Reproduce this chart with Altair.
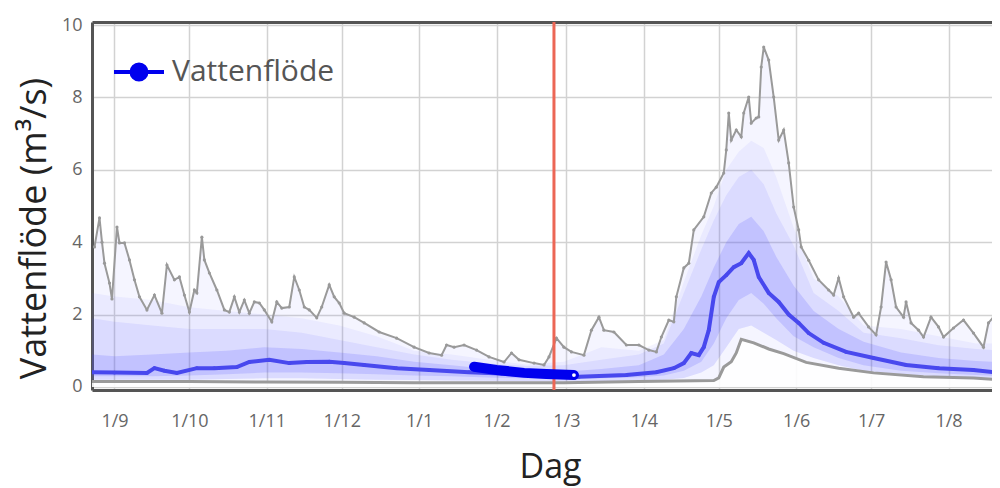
import pandas as pd
import altair as alt

BASE = pd.Timestamp("2022-09-01")

# ---- data (day offsets from 1 Sep) ----
max_days = [-8, -6, -5, -4, -2, -1, 1, 2, 4, 6, 8, 10, 13, 16, 19, 21, 24, 26, 28, 30,
            32, 33, 35, 36, 38, 41, 44, 46, 48, 50, 52, 54, 56, 58, 60, 63, 65, 67, 70, 72,
            74, 76, 78, 81, 83, 86, 88, 90, 92, 96, 100, 106, 113, 120, 126, 131, 133, 136, 140, 145,
            150, 156, 159, 162, 168, 172, 174, 177, 180, 183, 188, 191, 194, 196, 200, 205, 210, 214, 217, 219,
            222, 224, 225, 228, 230, 232, 236, 239, 241, 244, 245, 246, 247, 249, 251, 252, 254, 255, 257, 258,
            259, 260, 262, 264, 266, 268, 270, 272, 274, 275, 278, 282, 286, 288, 290, 292, 296, 298, 302, 305,
            307, 309, 311, 313, 316, 317, 319, 322, 324, 327, 330, 332, 336, 340, 344, 348, 350, 352, 354]
max_vals = [3.87, 4.67, 4.00, 3.42, 2.87, 2.43, 4.42, 3.98, 3.98, 3.51, 2.96, 2.49, 2.13, 2.54, 2.04, 3.37, 2.96, 3.04, 2.54, 2.07,
            2.68, 2.60, 4.14, 3.51, 3.15, 2.68, 2.13, 2.07, 2.49, 2.07, 2.40, 2.04, 2.35, 2.32, 2.13, 1.80, 2.35, 2.18, 2.21, 3.04,
            2.68, 2.21, 2.13, 1.91, 2.21, 2.82, 2.49, 2.32, 2.04, 1.93, 1.77, 1.52, 1.35, 1.10, 0.94, 0.88, 1.16, 1.10, 1.16, 1.02,
            0.83, 0.69, 0.94, 0.75, 0.66, 0.61, 0.83, 1.35, 1.10, 0.97, 0.88, 1.57, 1.93, 1.57, 1.52, 1.16, 1.16, 1.02, 0.97, 1.38,
            1.85, 1.80, 2.49, 3.29, 3.42, 4.34, 4.70, 5.36, 5.52, 5.91, 6.55, 7.57, 6.82, 7.10, 6.91, 7.57, 8.01, 7.29, 7.43, 7.46,
            8.84, 9.39, 9.03, 8.01, 6.82, 7.10, 6.19, 4.97, 4.34, 3.87, 3.50, 2.96, 2.68, 2.54, 3.01, 2.49, 1.93, 2.04, 1.66, 1.44,
            2.21, 3.45, 2.96, 2.21, 1.93, 2.35, 1.77, 1.57, 1.38, 1.93, 1.66, 1.38, 1.63, 1.85, 1.49, 1.10, 1.77, 1.93, 1.57]

med_days = [-9, 0, 13, 16, 20, 25, 33, 40, 49, 54, 62, 70, 77, 86, 92, 100, 113, 126, 142, 155,
            170, 186, 205, 217, 224, 228, 231, 234, 236, 238, 240, 242, 245, 248, 251, 254, 256, 258, 262, 266,
            270, 274, 278, 284, 293, 304, 317, 330, 344, 355]
med_vals = [0.41, 0.40, 0.39, 0.52, 0.45, 0.39, 0.52, 0.52, 0.55, 0.69, 0.75, 0.66, 0.69, 0.70, 0.66, 0.61, 0.52, 0.47, 0.41, 0.37,
            0.32, 0.28, 0.33, 0.41, 0.52, 0.66, 0.94, 0.88, 1.10, 1.57, 2.49, 2.90, 3.09, 3.31, 3.42, 3.70, 3.51, 3.04, 2.60, 2.35,
            2.00, 1.77, 1.49, 1.22, 0.97, 0.80, 0.61, 0.52, 0.47, 0.39]

min_days = [-9, 30, 60, 90, 120, 150, 180, 210, 240, 242, 244, 247, 249, 251, 256, 262, 268, 277, 290, 304, 324, 344, 356]
min_vals = [0.15, 0.15, 0.14, 0.13, 0.12, 0.12, 0.12, 0.15, 0.18, 0.25, 0.55, 0.70, 0.94, 1.32, 1.22, 1.05, 0.92, 0.68, 0.52, 0.39, 0.28, 0.25, 0.19]

band_days = [-9, 0, 15, 30, 45, 60, 75, 90, 105, 120, 135, 150, 165, 180, 195, 210, 220, 228, 235, 240,
             245, 250, 255, 260, 265, 272, 280, 290, 300, 315, 330, 345, 356]
p95 = [2.6, 2.5, 2.4, 2.2, 2.1, 2.0, 1.9, 1.7, 1.4, 1.0, 0.9, 0.75, 0.62, 0.7, 1.1, 1.0, 1.3, 2.9, 4.2, 5.0,
       6.0, 6.5, 6.8, 6.6, 5.8, 4.4, 3.0, 2.5, 1.7, 1.6, 1.4, 1.2, 1.2]
p90 = [1.9, 1.8, 1.7, 1.6, 1.6, 1.6, 1.5, 1.3, 1.1, 0.9, 0.75, 0.65, 0.58, 0.6, 0.75, 0.9, 1.2, 2.6, 3.8, 4.6,
       5.3, 5.8, 6.0, 5.6, 4.8, 3.9, 2.6, 2.1, 1.5, 1.35, 1.15, 1.05, 1.0]
p75 = [0.9, 0.85, 0.9, 0.95, 1.0, 1.1, 1.05, 0.95, 0.85, 0.7, 0.6, 0.5, 0.45, 0.42, 0.5, 0.6, 0.9, 1.6, 2.5, 3.3,
       4.0, 4.5, 4.7, 4.3, 3.6, 2.8, 2.1, 1.6, 1.25, 0.95, 0.8, 0.72, 0.68]
p25 = [0.3, 0.3, 0.3, 0.32, 0.35, 0.4, 0.4, 0.38, 0.35, 0.32, 0.3, 0.26, 0.24, 0.22, 0.24, 0.27, 0.32, 0.45, 0.7, 1.2,
       1.9, 2.4, 2.6, 2.3, 1.9, 1.4, 1.1, 0.8, 0.6, 0.45, 0.38, 0.33, 0.3]
p10 = [0.2, 0.2, 0.2, 0.2, 0.22, 0.24, 0.24, 0.22, 0.2, 0.19, 0.18, 0.17, 0.16, 0.15, 0.16, 0.18, 0.2, 0.25, 0.4, 0.6,
       1.1, 1.6, 1.7, 1.5, 1.3, 1.0, 0.8, 0.6, 0.45, 0.35, 0.3, 0.27, 0.25]

obs_days = [144, 153, 164, 173, 184]
obs_vals = [0.56, 0.47, 0.39, 0.36, 0.33]

forecast_day = [176]
series_name = "Vattenflöde"
month_ticks = [(2022, 9), (2022, 10), (2022, 11), (2022, 12), (2023, 1), (2023, 2),
               (2023, 3), (2023, 4), (2023, 5), (2023, 6), (2023, 7), (2023, 8)]
y_ticks = [0, 2, 4, 6, 8, 10]


def dates(days):
    return [BASE + pd.Timedelta(days=d) for d in days]


df_max = pd.DataFrame({"date": dates(max_days), "v": max_vals})
df_med = pd.DataFrame({"date": dates(med_days), "v": med_vals})
df_min = pd.DataFrame({"date": dates(min_days), "v": min_vals})
df_band = pd.DataFrame({"date": dates(band_days), "p10": p10, "p25": p25,
                        "p75": p75, "p90": p90, "p95": p95})
df_obs = pd.DataFrame({"date": dates(obs_days), "v": obs_vals, "serie": series_name})
df_end = df_obs.tail(1)
df_rule = pd.DataFrame({"date": dates(forecast_day)})

xs = alt.Scale(domain=[alt.DateTime(year=2022, month=8, date=23),
                       alt.DateTime(year=2023, month=8, date=18, hours=10)])
ys = alt.Scale(domain=[-0.083, 10.083], nice=False, zero=False)

FONT = "Open Sans"

x_axis = alt.Axis(
    format="%-d/%-m",
    values=[alt.DateTime(year=y, month=m, date=1) for y, m in month_ticks],
    labelFontSize=18, labelColor="#666", labelPadding=22, labelFont=FONT,
    ticks=False, grid=True, gridColor="#d2d2d2", gridWidth=1.5,
    domain=True, domainColor="#555", domainWidth=3,
    title="Dag", titleFontSize=34, titleColor="#222", titleFont=FONT, titleFontWeight="normal",
    titleX=458, titleY=87, titleAlign="center", titleBaseline="alphabetic",
)
x_top = alt.Axis(orient="top", labels=False, ticks=False, grid=False, domain=True,
                 domainColor="#555", domainWidth=3, title=None)
y_axis = alt.Axis(
    values=y_ticks,
    labelFontSize=18, labelColor="#666", labelPadding=10, labelFont=FONT,
    ticks=False, grid=True, gridColor="#d2d2d2", gridWidth=1.5,
    domain=True, domainColor="#555", domainWidth=3,
    title="Vattenflöde (m³/s)", titleFontSize=36, titleColor="#222", titleFont=FONT,
    titleFontWeight="normal", titleX=-58, titleY=206, titleAlign="center", titleBaseline="middle",
)


def X(axis=None):
    return alt.X("date:T", scale=xs, axis=axis)


def Y(field):
    return alt.Y(field, scale=ys, axis=y_axis)


envelope = alt.Chart(df_max).mark_area(color="#6b6bff", opacity=0.07, clip=True).encode(
    x=X(x_axis), y=Y("v:Q"), y2=alt.datum(0)
)
band95 = alt.Chart(df_band).mark_area(color="#6060ff", opacity=0.07, clip=True).encode(
    x=X(), y=Y("p95:Q"), y2="p10:Q"
)
band90 = alt.Chart(df_band).mark_area(color="#5a5aff", opacity=0.10, clip=True).encode(
    x=X(), y=Y("p90:Q"), y2="p10:Q"
)
band75 = alt.Chart(df_band).mark_area(color="#4a4aff", opacity=0.17, clip=True).encode(
    x=X(), y=Y("p75:Q"), y2="p25:Q"
)
under_min = alt.Chart(df_min).mark_area(color="white", opacity=0.9, clip=True).encode(
    x=X(), y=Y("v:Q"), y2=alt.datum(0)
)
min_line = alt.Chart(df_min).mark_line(color="#9a9a9a", strokeWidth=3, clip=True).encode(
    x=X(), y=Y("v:Q")
)
max_line = alt.Chart(df_max).mark_line(
    color="#9a9a9a", strokeWidth=2, clip=True,
    point=alt.OverlayMarkDef(color="#999", size=10, filled=True),
).encode(x=X(), y=Y("v:Q"))
med_line = alt.Chart(df_med).mark_line(
    color="#4848ee", strokeWidth=4, clip=True,
    point=alt.OverlayMarkDef(color="#4848ee", size=14, filled=True),
).encode(x=X(), y=Y("v:Q"))
rule = alt.Chart(df_rule).mark_rule(color="#ec6655", strokeWidth=3).encode(x=X(x_top))
obs_line = alt.Chart(df_obs).mark_line(strokeWidth=10, strokeCap="round", clip=True).encode(
    x=X(), y=Y("v:Q"),
    color=alt.Color(
        "serie:N", scale=alt.Scale(range=["#0000ee"]),
        legend=alt.Legend(
            orient="none", legendX=20, legendY=23, title=None, padding=0,
            symbolType="M-1,0L1,0M0.3,0A0.3,0.3,0,1,1,-0.3,0A0.3,0.3,0,1,1,0.3,0Z",
            symbolSize=2500, symbolStrokeWidth=4, symbolFillColor="#0000ee",
            symbolStrokeColor="#0000ee", symbolOpacity=1,
            labelFontSize=30, labelColor="#555", labelFont=FONT, labelOffset=6,
            labelLimit=400,
        ),
    ),
)
obs_end = alt.Chart(df_end).mark_point(
    filled=True, fill="white", stroke="#0000ee", strokeWidth=2.5, size=40, opacity=1, clip=True
).encode(x=X(), y=Y("v:Q"))

chart = (
    alt.layer(envelope, band95, band90, band75, under_min, min_line, max_line, med_line,
              rule, obs_line, obs_end)
    .resolve_axis(x="independent")
    .properties(
        width=900, height=368,
        autosize=alt.AutoSizeParams(type="none"),
        padding={"left": 84, "top": 14, "right": 0, "bottom": 98},
        background="white",
    )
    .configure_view(stroke=None)
)

chart.save("out.html", embed_options={"renderer": "svg", "actions": False})
